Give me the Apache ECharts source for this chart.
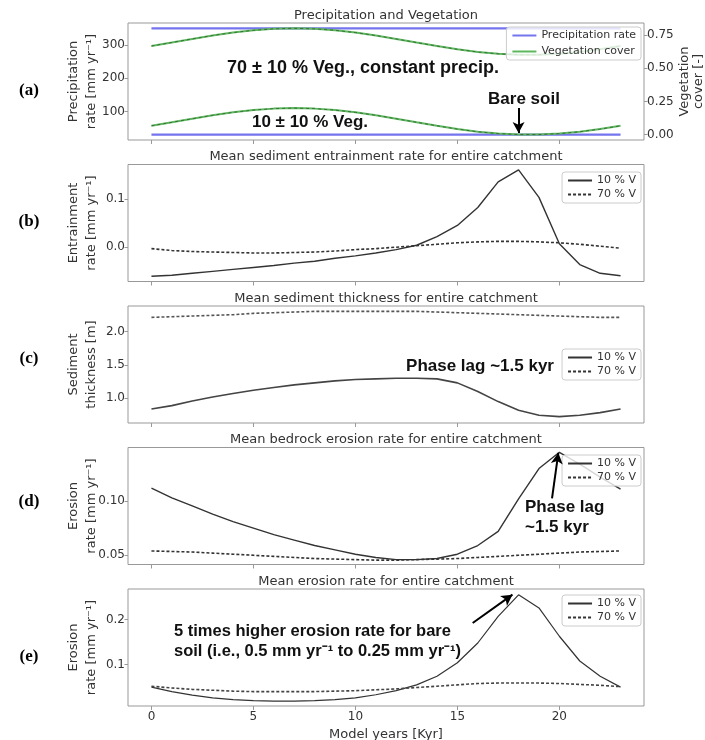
<!DOCTYPE html>
<html><head><meta charset="utf-8">
<script src="https://cdn.jsdelivr.net/npm/echarts@6/dist/echarts.min.js"></script>
<style>html,body{margin:0;padding:0;background:#fff}#c{width:705px;height:740px}</style>
</head><body><div id="c"></div>
<script>
// ---------------- data ----------------
const years = [0,1,2,3,4,5,6,7,8,9,10,11,12,13,14,15,16,17,18,19,20,21,22,23];
const precipHigh = [350,350,350,350,350,350,350,350,350,350,350,350,350,350,350,350,350,350,350,350,350,350,350,350];
const precipLow  = [30,30,30,30,30,30,30,30,30,30,30,30,30,30,30,30,30,30,30,30,30,30,30,30];
const veg70 = [0.667,0.693,0.720,0.746,0.768,0.785,0.796,0.800,0.796,0.785,0.768,0.746,0.720,0.693,0.667,0.642,0.622,0.608,0.601,0.601,0.608,0.622,0.642,0.667];
const veg10 = [0.067,0.093,0.120,0.146,0.168,0.185,0.196,0.200,0.196,0.185,0.168,0.146,0.120,0.093,0.067,0.042,0.022,0.008,0.001,0.001,0.008,0.022,0.042,0.067];
const entrain10 = [-0.060,-0.058,-0.054,-0.050,-0.046,-0.042,-0.038,-0.033,-0.029,-0.023,-0.018,-0.012,-0.005,0.004,0.022,0.045,0.082,0.135,0.160,0.103,0.007,-0.036,-0.054,-0.059];
const entrain70 = [-0.003,-0.007,-0.009,-0.010,-0.011,-0.012,-0.012,-0.011,-0.010,-0.008,-0.005,-0.003,0.000,0.003,0.006,0.009,0.011,0.012,0.012,0.011,0.009,0.006,0.002,-0.002];
const thick10 = [0.84,0.89,0.96,1.02,1.07,1.12,1.16,1.20,1.23,1.26,1.28,1.29,1.30,1.30,1.29,1.23,1.10,0.95,0.82,0.745,0.725,0.745,0.785,0.84];
const thick70 = [2.21,2.22,2.23,2.24,2.25,2.27,2.28,2.29,2.30,2.30,2.30,2.30,2.30,2.30,2.29,2.28,2.27,2.26,2.25,2.24,2.23,2.22,2.21,2.21];
const bedrock10 = [0.112,0.103,0.0955,0.088,0.081,0.075,0.069,0.064,0.059,0.055,0.051,0.048,0.046,0.046,0.047,0.051,0.059,0.072,0.102,0.130,0.145,0.134,0.122,0.111];
const bedrock70 = [0.054,0.0535,0.053,0.052,0.051,0.050,0.049,0.048,0.047,0.0465,0.046,0.0455,0.0455,0.046,0.0465,0.047,0.048,0.049,0.050,0.051,0.052,0.053,0.0535,0.054];
const erosion10 = [0.050,0.040,0.032,0.026,0.022,0.020,0.019,0.019,0.020,0.022,0.026,0.033,0.042,0.055,0.074,0.104,0.148,0.207,0.255,0.226,0.163,0.108,0.074,0.050];
const erosion70 = [0.052,0.048,0.045,0.043,0.041,0.040,0.040,0.040,0.040,0.041,0.042,0.044,0.046,0.049,0.052,0.055,0.058,0.059,0.059,0.059,0.058,0.056,0.054,0.051];

const xTicks = [0,5,10,15,20];
const precipTicks = [100,200,300];
const vegTicks = [0,0.25,0.5,0.75];
const entrainTicks = [0,0.1];
const thickTicks = [1.0,1.5,2.0];
const bedrockTicks = [0.05,0.10];
const erosionTicks = [0.1,0.2];

const panelTitles = ['Precipitation and Vegetation','Mean sediment entrainment rate for entire catchment','Mean sediment thickness for entire catchment','Mean bedrock erosion rate for entire catchment','Mean erosion rate for entire catchment'];
const panelLetters = ['(a)','(b)','(c)','(d)','(e)'];

// ---------------- layout ----------------
const GL = 128, GW = 516, GH = 117;
const tops = [23, 164.5, 306, 447.5, 589];
const pair = arr => years.map((x,i)=>[x, arr[i]]);
const FONT = 'DejaVu Sans';
const AX = '#999';

const grids = tops.map(t => ({left: GL, top: t, width: GW, height: GH, show: true, borderColor: AX, borderWidth: 1,
  backgroundColor: 'transparent', containLabel: false, outerBoundsMode: 'none'}));

const xAxes = tops.map((t,i) => ({
  type: 'value', gridIndex: i, min: -1.15, max: 24.15, position: 'bottom',
  axisLine: {show: false, onZero: false}, splitLine: {show: false},
  axisTick: {show: true, inside: false, length: 4, lineStyle: {color: AX}, customValues: xTicks},
  axisLabel: {show: i === 4, customValues: xTicks, fontFamily: FONT, fontSize: 12, color: '#333', margin: 5},
  name: i === 4 ? 'Model years [Kyr]' : '', nameLocation: 'middle', nameGap: 22, nameMoveOverlap: false,
  nameTextStyle: {fontFamily: FONT, fontSize: 13, color: '#333'}
}));

function yAx(gi, min, max, ticks, dec, name, pos) {
  const right = pos === 'right';
  return {
    type: 'value', gridIndex: gi, min, max, position: pos || 'left',
    axisLine: {show: false, onZero: false}, splitLine: {show: false},
    axisTick: {show: true, inside: false, length: 3.5, lineStyle: {color: AX}, customValues: ticks},
    axisLabel: {customValues: ticks, fontFamily: FONT, fontSize: 12, color: '#333', margin: 3,
      formatter: v => Number(v).toFixed(dec)},
    name, nameLocation: 'middle', nameRotate: 90, nameGap: right ? 34 : 27, nameMoveOverlap: false,
    nameTextStyle: {fontFamily: FONT, fontSize: 13, color: '#333', lineHeight: right ? 14 : 18}
  };
}
const yAxes = [
  yAx(0, 14, 366, precipTicks, 0, 'Precipitation\nrate [mm yr\u207B\u00B9]'),
  yAx(0, -0.04, 0.84, vegTicks, 2, 'Vegetation\ncover [-]', 'right'),
  yAx(1, -0.071, 0.171, entrainTicks, 1, 'Entrainment\nrate [mm yr\u207B\u00B9]'),
  yAx(2, 0.63, 2.38, thickTicks, 1, 'Sediment\nthickness [m]'),
  yAx(3, 0.0415, 0.1494, bedrockTicks, 2, 'Erosion\nrate [mm yr\u207B\u00B9]'),
  yAx(4, 0.008, 0.268, erosionTicks, 1, 'Erosion\nrate [mm yr\u207B\u00B9]')
];

const arrowStyle = {color: '#000', width: 2, type: 'solid'};
function arrow(from, to) {
  return {silent: true, symbol: ['none','arrow'], symbolSize: [9,11], lineStyle: arrowStyle, label: {show: false},
    emphasis: {disabled: true}, data: [[{coord: from}, {coord: to}]]};
}
function line(name, data, xi, yi, color, width, type, extra) {
  return Object.assign({type: 'line', name, data: pair(data), xAxisIndex: xi, yAxisIndex: yi,
    symbol: 'none', smooth: false, lineStyle: {color, width, type}, itemStyle: {color}, silent: true, z: 3}, extra || {});
}
const DK = '#333';
const dashOverlay = {lineStyle: {color: '#2f4f2f', width: 1, type: [3,3], opacity: 0.7}};
const series = [
  line('Precipitation rate', precipHigh, 0, 0, '#7474ee', 2.2, 'solid'),
  line('Precipitation rate', precipLow, 0, 0, '#7474ee', 2.2, 'solid'),
  line('Vegetation cover', veg70, 0, 1, '#5cb85c', 2, 'solid'),
  line('Vegetation cover', veg10, 0, 1, '#5cb85c', 2, 'solid', {markLine: arrow([18, 0.2], [18, 0.012])}),
  line('veg70dash', veg70, 0, 1, '#2f4f2f', 1, [3,3], dashOverlay),
  line('veg10dash', veg10, 0, 1, '#2f4f2f', 1, [3,3], dashOverlay),
  line('10 % V', entrain10, 1, 2, DK, 1.4, 'solid'),
  line('70 % V', entrain70, 1, 2, DK, 1.6, [3,2]),
  line('10 % V', thick10, 2, 3, '#444', 1.6, 'solid'),
  line('70 % V', thick70, 2, 3, '#555', 1.6, [3,2]),
  line('10 % V', bedrock10, 3, 4, DK, 1.4, 'solid', {markLine: arrow([19.64, 0.1025], [19.95, 0.1445])}),
  line('70 % V', bedrock70, 3, 4, DK, 1.6, [3,2]),
  line('10 % V', erosion10, 4, 5, DK, 1.2, 'solid', {markLine: arrow([15.75, 0.1925], [17.7, 0.2555])}),
  line('70 % V', erosion70, 4, 5, '#444', 1.6, [3,2])
];

const legBase = {orient: 'vertical', right: 64, itemWidth: 24, itemHeight: 10, itemGap: 3,
  padding: [3,5,3,5], borderColor: '#ccc', borderWidth: 1, borderRadius: 3,
  backgroundColor: 'rgba(255,255,255,0.8)', selectedMode: false,
  itemStyle: {opacity: 0},
  textStyle: {fontFamily: FONT, fontSize: 11, color: '#333'}};
const legends = [
  Object.assign({}, legBase, {top: 27, itemGap: 5, data: ['Precipitation rate','Vegetation cover']}),
  Object.assign({}, legBase, {top: 172, data: ['10 % V','70 % V']}),
  Object.assign({}, legBase, {top: 349, data: ['10 % V','70 % V']}),
  Object.assign({}, legBase, {top: 455, data: ['10 % V','70 % V']}),
  Object.assign({}, legBase, {top: 595, data: ['10 % V','70 % V']})
];

const titles = panelTitles.map((t,i) => ({text: t, left: GL + GW/2, top: tops[i] - 14, textAlign: 'center', padding: 0,
  textStyle: {fontFamily: FONT, fontSize: 13, fontWeight: 'normal', color: '#333'}}));

function txt(x, y, text, align, size) {
  return {type: 'text', x, y, silent: true, z: 10,
    style: {text, font: 'bold ' + (size || 17) + 'px "Liberation Sans", Arial, sans-serif', fill: '#111',
      textAlign: align || 'left', textVerticalAlign: 'middle'}};
}
const letterY = [91, 222, 359, 502, 657];
const graphics = panelLetters.map((l,i) => ({type: 'text', x: 29, y: letterY[i], silent: true,
  style: {text: l, font: 'bold 17px "Liberation Serif", "Times New Roman", serif', fill: '#000', textAlign: 'center', textVerticalAlign: 'middle'}}))
  .concat([
    txt(363, 68, '70 \u00B1 10 % Veg., constant precip.', 'center', 18),
    txt(310, 122, '10 \u00B1 10 % Veg.', 'center', 17),
    txt(524, 99, 'Bare soil', 'center', 17),
    txt(480, 366, 'Phase lag ~1.5 kyr', 'center', 17),
    txt(525, 507, 'Phase lag', 'left', 17),
    txt(525, 527, '~1.5 kyr', 'left', 17),
    txt(174, 631, '5 times higher erosion rate for bare', 'left', 16.5),
    txt(174, 651, 'soil (i.e., 0.5 mm yr\u207B\u00B9 to 0.25 mm yr\u207B\u00B9)', 'left', 16.5)
  ]);

const chart = echarts.init(document.getElementById('c'), null, {renderer: 'canvas'});
chart.setOption({
  animation: false, backgroundColor: '#fff',
  title: titles, grid: grids, xAxis: xAxes, yAxis: yAxes,
  legend: legends, series, graphic: graphics
});
</script></body></html>
